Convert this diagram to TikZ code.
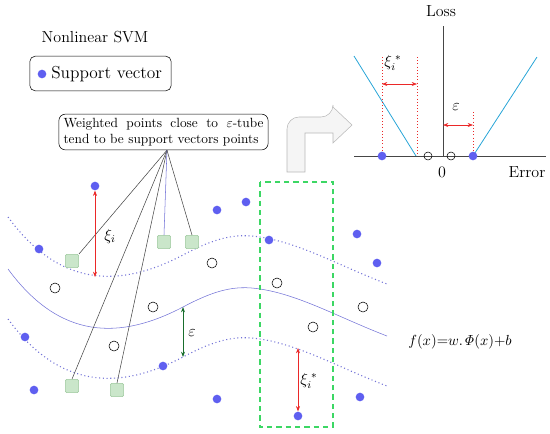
\documentclass[tikz,border=0pt]{standalone}
\usepackage{amsmath,amssymb}
\usepackage{tikz}
\usetikzlibrary{arrows.meta,positioning,calc}
\definecolor{svBlue}{RGB}{95,95,240}
\definecolor{tubeBlue}{RGB}{115,115,215}
\definecolor{lossCyan}{RGB}{40,165,215}
\definecolor{wGreen}{RGB}{202,230,202}
\definecolor{wGreenEdge}{RGB}{155,200,155}
\definecolor{winGreen}{RGB}{60,215,100}
\definecolor{epsGreen}{RGB}{25,110,45}
\definecolor{axisGray}{RGB}{70,70,70}
\definecolor{slackRed}{RGB}{235,40,40}
\newcommand{\supvec}[2]{\node[svdot] (#1) at #2 {};}
\newcommand{\plainpt}[2]{\node[opendot] (#1) at #2 {};}
\newcommand{\wpoint}[2]{\node[wsquare] (#1) at #2 {};}
\newcommand{\tubecurve}{(8,269) .. controls (60,340) and (120,340) .. (183,307) .. controls (215,290) and (235,285) .. (260,289) .. controls (300,295) and (340,318) .. (387,336)}

\begin{document}
\begin{tikzpicture}[x=0.75pt,y=-0.75pt,
	svdot/.style={circle,fill=svBlue,inner sep=0pt,minimum size=6.5pt},
	opendot/.style={circle,draw=black,inner sep=0pt,minimum size=7.5pt},
	wsquare/.style={rectangle,rounded corners=1pt,fill=wGreen,draw=wGreenEdge,inner sep=0pt,minimum size=10pt},
	gap/.style={{Stealth[length=4pt,width=3pt]}-{Stealth[length=4pt,width=3pt]}},
	reddots/.style={slackRed,line width=0.6pt,dash pattern=on 0.6pt off 1.8pt},
	notebox/.style={draw,rounded corners=5pt,text width=150pt,align=justify,inner xsep=3.5pt,inner ysep=3pt,font=\fontsize{10}{12}\selectfont},
	lbl/.style={font=\fontsize{12}{14}\selectfont}]
	\useasboundingbox (0,0) rectangle (550,433);
	% header and legend
	\node[lbl] (title) at (95,37) {Nonlinear SVM};
	\node[draw,rounded corners=4pt,minimum width=106pt,minimum height=26pt] (legend) at (100.5,73.5) {};
	\supvec{legdot}{(42,74)}
	\node[anchor=west,inner sep=0pt,font=\fontsize{13}{15}\selectfont] (legtxt) at (51,74) {Support vector};
	\node[notebox] (note) at (163.5,132) {Weighted points close to $\varepsilon$-tube tend to be support vectors points};
	\coordinate (hub) at ([xshift=2.6pt]note.south);
	% tube
	\draw[tubeBlue] \tubecurve;
	\draw[tubeBlue,dotted,thick,shift={(0,-52)}] \tubecurve;
	\draw[tubeBlue,dotted,thick,shift={(0,50)}] \tubecurve;
	\draw[winGreen,line width=1pt,dash pattern=on 4pt off 3pt] (260,182) rectangle (333,427);
	% points
	\wpoint{w1}{(72,261)} \wpoint{w2}{(164,242)} \wpoint{w3}{(192,242)} \wpoint{w4}{(72,386)} \wpoint{w5}{(117,390)}
	\draw[axisGray] (hub) -- (w1.north east);
	\draw[axisGray] (hub) -- (w4.north);
	\draw[axisGray] (hub) -- (w5.north);
	\draw[tubeBlue] (hub) -- (w2.north);
	\draw[axisGray] (hub) -- (w3.north);
	\supvec{s1}{(95,186)} \supvec{s2}{(217,210)} \supvec{s3}{(246,202)} \supvec{s4}{(39,249)} \supvec{s5}{(269,240)}
	\supvec{s6}{(25,337)} \supvec{s7}{(34,390)} \supvec{s8}{(163,366)} \supvec{s9}{(217,399)} \supvec{s10}{(357,234)}
	\supvec{s11}{(377,263)} \supvec{s12}{(360,397)} \supvec{s13}{(298,416)}
	\plainpt{o1}{(55,288)} \plainpt{o2}{(212,263)} \plainpt{o3}{(153,307)} \plainpt{o4}{(114,346)}
	\plainpt{o5}{(277,283)} \plainpt{o6}{(363,307)} \plainpt{o7}{(313,327)}
	% slack and margin
	\coordinate (xiFoot) at (95,277);
	\draw[gap,slackRed] (s1.south) -- (xiFoot);
	\node[lbl] (xi) at (110,236) {$\xi_i$};
	\coordinate (midPt) at (183,307);
	\coordinate (lowPt) at (183,357);
	\draw[gap,epsGreen,semithick] (midPt) -- (lowPt);
	\node[lbl] (eps) at (192,333) {$\varepsilon$};
	\coordinate (xiTop) at (298,348);
	\draw[gap,slackRed] (xiTop) -- (s13.north);
	\node[lbl] (xis) at (309,381) {$\xi_i^{\;*}$};
	\node[font=\fontsize{11}{13}\selectfont] (fx) at (460,342) {$f(x)\mathord{=}w.\mathit{\Phi}(x)\mathord{+}b$};
	% bent arrow
	\draw[fill=gray!8,draw=gray!55] (287,172) {[rounded corners=9pt] -- (287,117) -- (333,117)} -- (333,107) -- (352,125) -- (333,143) -- (333,133) -- (305,133) -- (305,172) -- cycle;
	% loss function
	\coordinate (org) at (443,156);
	\coordinate (xend) at (546,156);
	\coordinate (xbeg) at (354,156);
	\coordinate (ytop) at (443,26);
	\draw[axisGray] (xbeg) -- (xend);
	\draw[axisGray] (org) -- (ytop);
	\node[lbl] (loss) at (441,11) {Loss};
	\node[lbl] (err) at (527,172) {Error};
	\node[lbl] (zero) at (442,172) {0};
	\coordinate (lA) at (354,56); \coordinate (lB) at (416,156);
	\coordinate (rA) at (473,156); \coordinate (rB) at (537,57);
	\draw[lossCyan,semithick] (lA) -- (lB);
	\draw[lossCyan,semithick] (rA) -- (rB);
	\draw[reddots] (382,57) -- (382,156);
	\draw[reddots] (417,57) -- (417,156);
	\draw[reddots] (473,112) -- (473,156);
	\draw[gap,slackRed] (382,84) -- (417,84);
	\draw[gap,slackRed] (org |- 0,125) -- (473,125);
	\node[lbl] (xisL) at (393,63) {$\xi_i^{\;*}$};
	\node[lbl] (epsL) at (456,107) {$\varepsilon$};
	\supvec{ls1}{(382,156)} \supvec{ls2}{(473,156)}
	\node[opendot,minimum size=6pt] (lo1) at (428,156) {};
	\node[opendot,minimum size=6pt] (lo2) at (451,156) {};
\end{tikzpicture}
\end{document}
